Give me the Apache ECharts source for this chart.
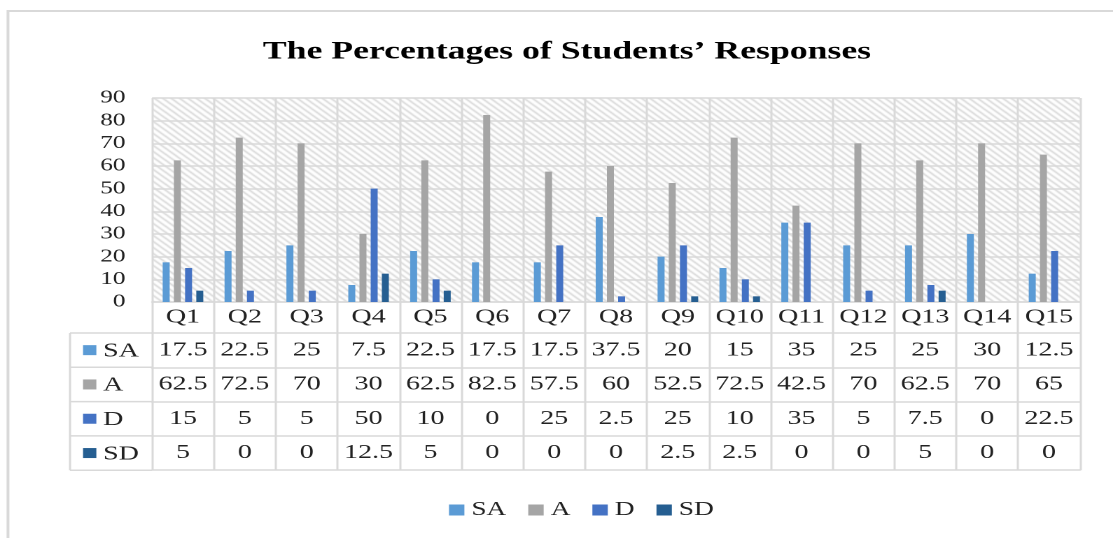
<!DOCTYPE html>
<html><head><meta charset="utf-8">
<script src="https://cdn.jsdelivr.net/npm/echarts@6/dist/echarts.min.js"></script>
<style>
html,body{margin:0;padding:0;background:#fff;overflow:hidden;width:1113px;height:538px}
#wrap{width:795px;height:538px;transform:scaleX(1.4);transform-origin:0 0;}
</style></head><body><div id="wrap"></div>
<script>
// ---- data ----
const categories = ['Q1','Q2','Q3','Q4','Q5','Q6','Q7','Q8','Q9','Q10','Q11','Q12','Q13','Q14','Q15'];
const seriesNames = ['SA','A','D','SD'];
const saValues = [17.5,22.5,25,7.5,22.5,17.5,17.5,37.5,20,15,35,25,25,30,12.5];
const aValues  = [62.5,72.5,70,30,62.5,82.5,57.5,60,52.5,72.5,42.5,70,62.5,70,65];
const dValues  = [15,5,5,50,10,0,25,2.5,25,10,35,5,7.5,0,22.5];
const sdValues = [5,0,0,12.5,5,0,0,0,2.5,2.5,0,0,5,0,0];
const yMin = 0, yMax = 90, yInterval = 10;
const titleText = 'The Percentages of Students\u2019 Responses';

// ---- styles ----
const colors = ['#5B9BD5','#A5A5A5','#4472C4','#255E91'];
const lineColor = '#d9d9d9';
const serif = '"Liberation Serif", "Times New Roman", serif';
const rows = [saValues, aValues, dValues, sdValues];

const pc = document.createElement('canvas');
pc.width = 6; pc.height = 6;
const g = pc.getContext('2d');
g.fillStyle = '#ffffff'; g.fillRect(0,0,6,6);
g.strokeStyle = '#d6d6d6'; g.lineWidth = 1.3;
g.beginPath();
g.moveTo(-1,-1); g.lineTo(7,7);
g.moveTo(-1,5); g.lineTo(1,7);
g.moveTo(5,-1); g.lineTo(7,1);
g.stroke();

const gridLeft = 108.6, gridRight = 23.6, gridTop = 98, gridBottom = 236;
const plotBottomY = 538 - gridBottom; // 302
const qRowH = 31, rowH = 34.3, tableLeft = 50;

const xAxes = [{
  type: 'category', data: categories, position: 'bottom', gridIndex: 0,
  axisLine: {show: true, lineStyle: {color: lineColor, width: 1.5}},
  axisTick: {show: true, length: qRowH, interval: 0, lineStyle: {color: lineColor, width: 1.5}},
  axisLabel: {interval: 0, margin: 5, fontFamily: serif, fontSize: 20, color: '#222'},
  splitLine: {show: true, interval: 0, lineStyle: {color: lineColor, width: 1.5}}
}];
rows.forEach((vals, k) => {
  xAxes.push({
    type: 'category', data: categories, position: 'bottom', gridIndex: 0,
    offset: qRowH + rowH * k,
    axisLine: {show: true, lineStyle: {color: lineColor, width: 1.5}},
    axisTick: {show: true, length: rowH, interval: 0, lineStyle: {color: lineColor, width: 1.5}},
    axisLabel: {interval: 0, margin: 7, fontFamily: serif, fontSize: 20, color: '#222',
      formatter: (v) => String(vals[categories.indexOf(v)])},
    splitLine: {show: false}
  });
});
xAxes.push({
  type: 'category', data: categories, position: 'bottom', gridIndex: 0,
  offset: qRowH + rowH * rows.length,
  axisLine: {show: true, lineStyle: {color: lineColor, width: 1.5}},
  axisTick: {show: false}, axisLabel: {show: false}, splitLine: {show: false}
});

const graphic = [{
  type: 'rect', silent: true, z: -10,
  shape: {x: 5.7, y: 11, width: 900, height: 700},
  style: {fill: 'none', stroke: '#d9d9d9', lineWidth: 2}
}];
const tTop = plotBottomY + qRowH;
for (let k = 0; k <= rows.length; k++) {
  graphic.push({type: 'line', silent: true,
    shape: {x1: tableLeft, y1: tTop + rowH * k, x2: gridLeft, y2: tTop + rowH * k},
    style: {stroke: lineColor, lineWidth: 1.5}});
}
graphic.push({type: 'line', silent: true,
  shape: {x1: tableLeft, y1: tTop, x2: tableLeft, y2: tTop + rowH * rows.length},
  style: {stroke: lineColor, lineWidth: 1.5}});
seriesNames.forEach((name, k) => {
  const cy = tTop + rowH * k + rowH / 2;
  graphic.push({type: 'rect', silent: true,
    shape: {x: 59.3, y: cy - 5, width: 9.5, height: 10},
    style: {fill: colors[k]}});
  graphic.push({type: 'text', silent: true, x: 73.6, y: cy + 1,
    style: {text: name, font: '20px ' + serif, fill: '#222', verticalAlign: 'middle', align: 'left'}});
});

const chart = echarts.init(document.getElementById('wrap'), null, {devicePixelRatio: 2, width: 795, height: 538});
chart.setOption({
  animation: false,
  backgroundColor: '#fff',
  title: {text: titleText, left: 400, textAlign: 'center', top: 34,
    textStyle: {fontFamily: serif, fontWeight: 'bold', fontSize: 25.5, color: '#000'}},
  legend: {data: seriesNames, left: 315.7, top: 495, icon: 'rect', itemWidth: 11, itemHeight: 11,
    itemGap: 15.7, textStyle: {fontFamily: serif, fontSize: 19.5, color: '#222'}},
  grid: {left: gridLeft, right: gridRight, top: gridTop, bottom: gridBottom, show: true,
    backgroundColor: {image: pc, repeat: 'repeat'}, borderWidth: 0},
  xAxis: xAxes,
  yAxis: {type: 'value', min: yMin, max: yMax, interval: yInterval,
    axisLine: {show: false}, axisTick: {show: false},
    axisLabel: {margin: 19, fontFamily: serif, fontSize: 18, color: '#222'},
    splitLine: {show: true, lineStyle: {color: lineColor, width: 1.5}}},
  graphic: graphic,
  series: [
    {name: 'SA', type: 'bar', data: saValues, itemStyle: {color: colors[0]}, barWidth: 5, barGap: '60%'},
    {name: 'A', type: 'bar', data: aValues, itemStyle: {color: colors[1]}, barWidth: 5, barGap: '60%'},
    {name: 'D', type: 'bar', data: dValues, itemStyle: {color: colors[2]}, barWidth: 5, barGap: '60%'},
    {name: 'SD', type: 'bar', data: sdValues, itemStyle: {color: colors[3]}, barWidth: 5, barGap: '60%'}
  ]
});
</script></body></html>
